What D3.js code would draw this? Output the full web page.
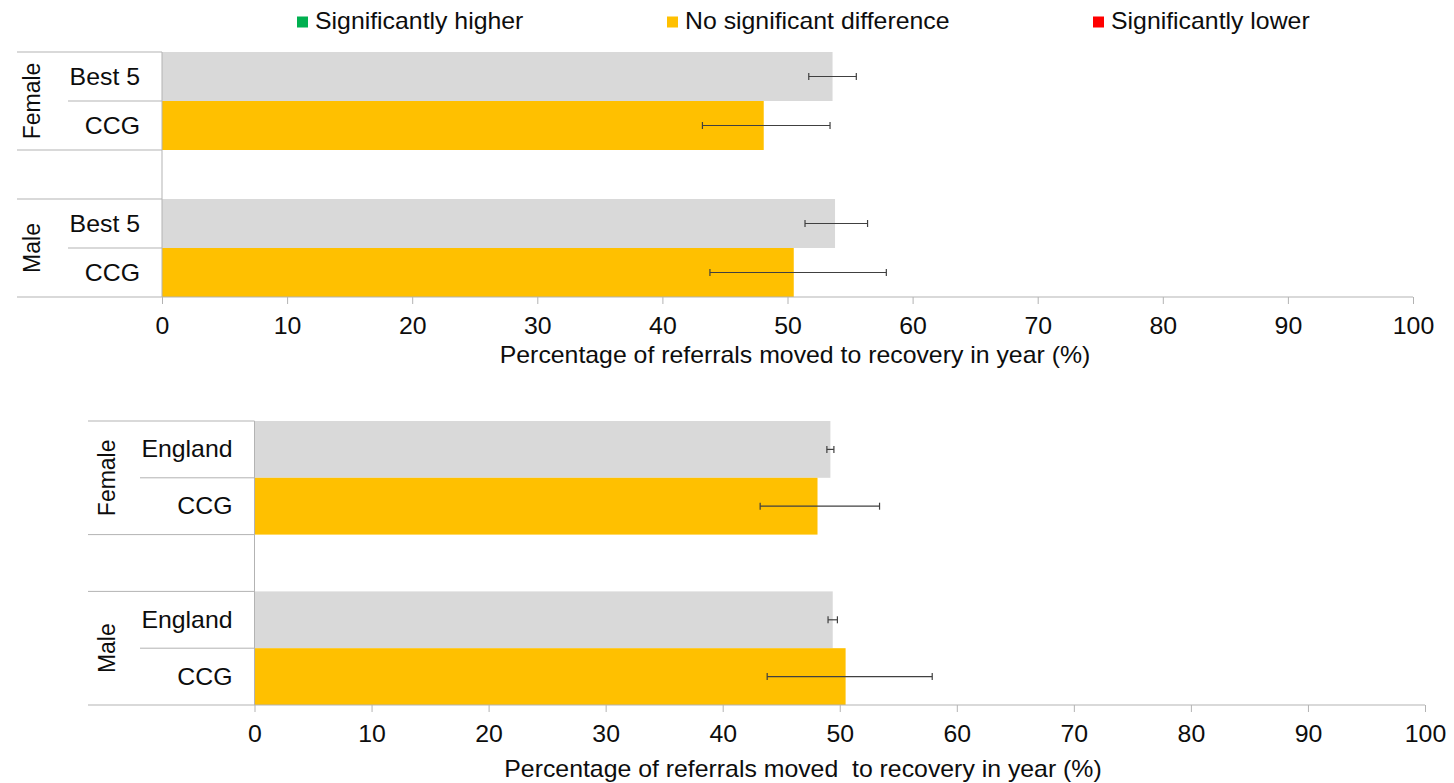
<!DOCTYPE html>
<html>
<head>
<meta charset="utf-8">
<script src="https://cdn.jsdelivr.net/npm/d3@7"></script>
<style>
  body { margin: 0; background: #fff; }
  text { font-family: "Liberation Sans", Arial, sans-serif; fill: #0d0d0d; }
</style>
</head>
<body>
<div class="container"></div>
<script>
const width = 1454;
const height = 783;

// legend
const legendLabels = ['Significantly higher', 'No significant difference', 'Significantly lower'];

// shared categories
const groups = ['Female', 'Male'];
const ticks = [0, 10, 20, 30, 40, 50, 60, 70, 80, 90, 100];

// CCG (both charts)
const ccgValues = [48.1, 50.5];
const ccgLower = [43.2, 43.8];
const ccgUpper = [53.4, 57.9];

// top chart benchmark: Best 5
const best5Values = [53.6, 53.8];
const best5Lower = [51.7, 51.4];
const best5Upper = [55.5, 56.4];

// bottom chart benchmark: England
const englandValues = [49.2, 49.4];
const englandLower = [48.9, 49.0];
const englandUpper = [49.5, 49.8];

const titleTop = 'Percentage of referrals moved to recovery in year (%)';
const titleBottom = 'Percentage of referrals moved  to recovery in year (%)';

const grey = '#d9d9d9';
const amber = '#ffc000';
const lineCol = '#b3b3b3';
const errCol = '#404040';
const fontSize = 23;
const stretch = 1.08;

const svg = d3.select('.container')
    .append('svg')
    .attr('width', width)
    .attr('height', height);

// puts a text at x,y with the slight horizontal stretch of the original
const placeText = (sel, x, y, rotate) => {
    sel.attr('transform', rotate
        ? `translate(${x},${y}) scale(${stretch},1) rotate(-90)`
        : `translate(${x},${y}) scale(${stretch},1)`)
       .style('font-size', fontSize + 'px')
    return sel
}

// legend
const legendColors = ['#00b050', amber, '#ff0000'];
const legendX = [297, 667, 1093];
legendLabels.forEach((label, i) => {
    svg.append('rect')
        .attr('x', legendX[i])
        .attr('y', 16.5)
        .attr('width', 11)
        .attr('height', 11)
        .attr('fill', legendColors[i]);
    placeText(svg.append('text').text(label), legendX[i] + 18, 28.5);
});

const drawChart = (cfg) => {
    const slots = ['0b', '0c', 'gap', '1b', '1c'];
    const y = d3.scaleBand()
        .domain(slots)
        .range([cfg.top, cfg.bottom])
        .paddingInner(0);

    const x = d3.scaleLinear()
        .domain([0, 100])
        .range([cfg.left, cfg.right]);

    const g = svg.append('g');

    // rows: benchmark bar + CCG bar per group
    const rows = [];
    groups.forEach((grp, i) => {
        rows.push({ slot: i + 'b', label: cfg.benchName, v: cfg.benchValues[i], lo: cfg.benchLower[i], hi: cfg.benchUpper[i], fill: grey });
        rows.push({ slot: i + 'c', label: 'CCG', v: ccgValues[i], lo: ccgLower[i], hi: ccgUpper[i], fill: amber });
    });

    g.selectAll('rect.bar')
        .data(rows)
        .enter()
        .append('rect')
        .attr('class', 'bar')
        .attr('x', x(0))
        .attr('y', d => y(d.slot))
        .attr('width', d => x(d.v) - x(0))
        .attr('height', y.bandwidth())
        .attr('fill', d => d.fill);

    // category separator lines on the left
    groups.forEach((grp, i) => {
        const top = y(i + 'b');
        const mid = y(i + 'c');
        const bot = mid + y.bandwidth();
        g.append('line').attr('x1', cfg.groupLineX).attr('x2', x(0)).attr('y1', top).attr('y2', top)
            .attr('stroke', lineCol);
        g.append('line').attr('x1', cfg.subLineX).attr('x2', x(0)).attr('y1', mid).attr('y2', mid)
            .attr('stroke', lineCol);
        if (i === 0) {
            g.append('line').attr('x1', cfg.groupLineX).attr('x2', x(0)).attr('y1', bot).attr('y2', bot)
                .attr('stroke', lineCol);
        }
        placeText(g.append('text').text(grp).attr('text-anchor', 'middle'),
            cfg.groupLabelX, top + y.bandwidth(), true);
    });

    // row labels
    rows.forEach(d => {
        placeText(g.append('text').text(d.label).attr('text-anchor', 'end'),
            cfg.left - 22, y(d.slot) + y.bandwidth() / 2 + 8);
    });

    // vertical axis line
    g.append('line')
        .attr('x1', x(0)).attr('x2', x(0))
        .attr('y1', cfg.top).attr('y2', cfg.bottom)
        .attr('stroke', lineCol);

    // x axis
    const axis = g.append('g')
        .attr('transform', `translate(0,${cfg.bottom})`)
        .call(d3.axisBottom(x).tickValues(ticks).tickSize(7).tickSizeOuter(0).tickFormat(d3.format('d')));
    axis.select('.domain').remove();
    axis.selectAll('.tick line').attr('stroke', lineCol);
    axis.selectAll('.tick text')
        .attr('y', 0).attr('dy', 0)
        .attr('transform', `translate(0,36.5) scale(${stretch},1)`)
        .style('font-size', fontSize + 'px')
        .style('font-family', '"Liberation Sans", Arial, sans-serif')
        .attr('fill', '#0d0d0d');

    g.append('line')
        .attr('x1', cfg.groupLineX).attr('x2', x(100))
        .attr('y1', cfg.bottom).attr('y2', cfg.bottom)
        .attr('stroke', lineCol);

    // error bars
    const err = g.selectAll('g.err')
        .data(rows)
        .enter()
        .append('g')
        .attr('class', 'err')
        .attr('stroke', errCol)
        .attr('stroke-width', 1.2);
    err.append('line')
        .attr('x1', d => x(d.lo)).attr('x2', d => x(d.hi))
        .attr('y1', d => y(d.slot) + y.bandwidth() / 2)
        .attr('y2', d => y(d.slot) + y.bandwidth() / 2);
    ['lo', 'hi'].forEach(k => {
        err.append('line')
            .attr('x1', d => x(d[k])).attr('x2', d => x(d[k]))
            .attr('y1', d => y(d.slot) + y.bandwidth() / 2 - 3.5)
            .attr('y2', d => y(d.slot) + y.bandwidth() / 2 + 3.5);
    });

    // axis title
    placeText(g.append('text').text(cfg.title).attr('text-anchor', 'middle').style('white-space', 'pre'),
        cfg.titleX, cfg.bottom + cfg.titleOffset);
}

drawChart({
    top: 52, bottom: 297, left: 162, right: 1413,
    groupLineX: 17, subLineX: 68, groupLabelX: 40,
    benchName: 'Best 5', benchValues: best5Values, benchLower: best5Lower, benchUpper: best5Upper,
    title: titleTop, titleX: 795, titleOffset: 66
});

drawChart({
    top: 421, bottom: 705, left: 254.5, right: 1425,
    groupLineX: 88, subLineX: 140, groupLabelX: 115,
    benchName: 'England', benchValues: englandValues, benchLower: englandLower, benchUpper: englandUpper,
    title: titleBottom, titleX: 803, titleOffset: 72
});
</script>
</body>
</html>
